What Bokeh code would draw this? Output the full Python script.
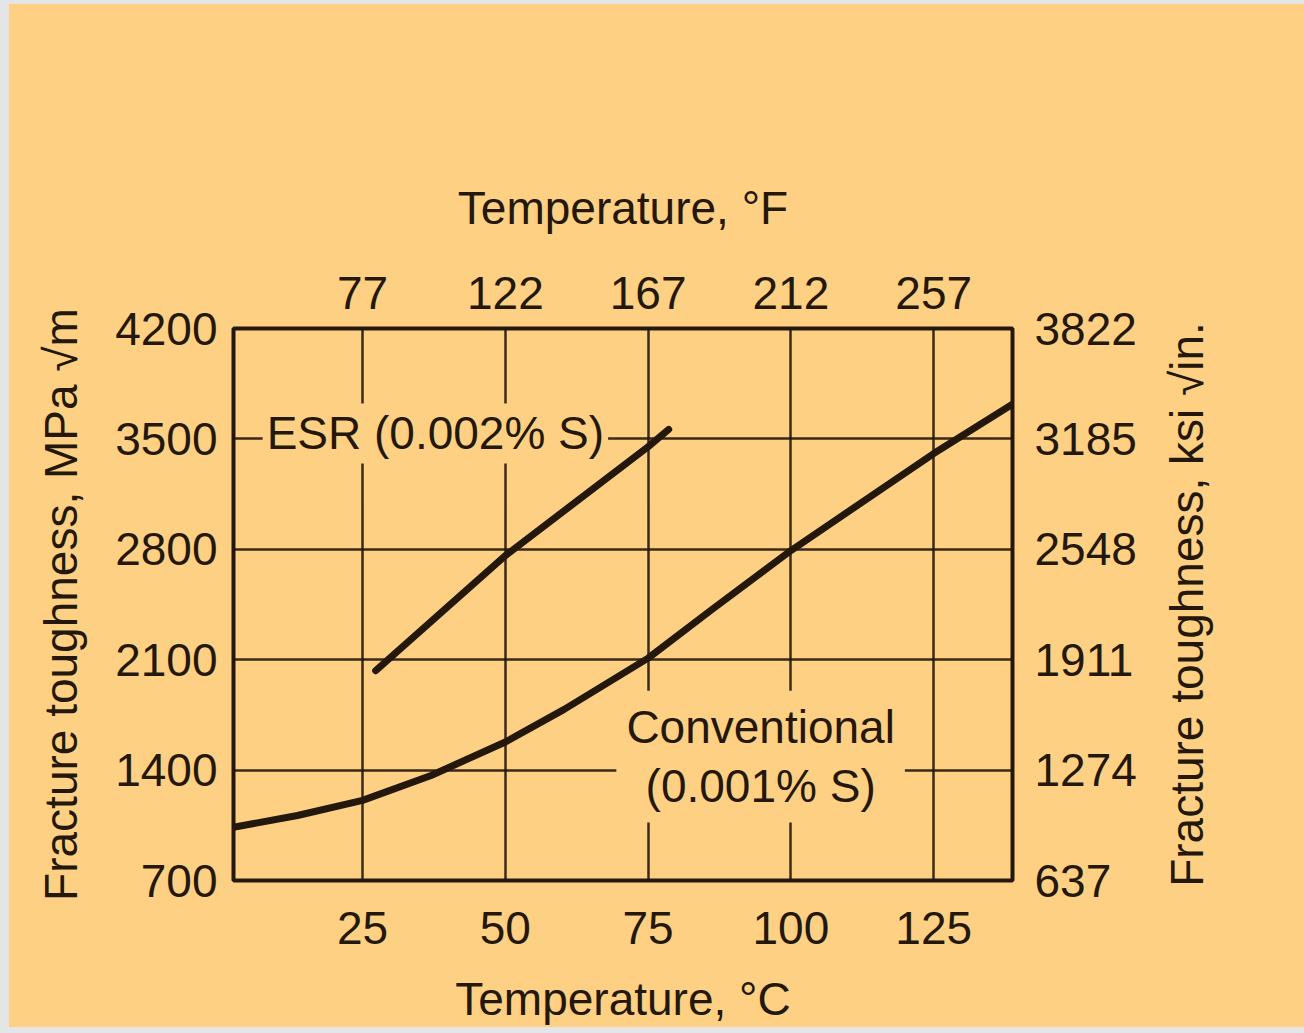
from bokeh.plotting import figure
from bokeh.models import (Range1d, LinearAxis, FixedTicker, Label, Spacer)
from bokeh.layouts import column, row
from bokeh.embed import file_html
from bokeh.resources import INLINE

# ---- data ----
c_ticks = [25, 50, 75, 100, 125]
f_ticks = [77, 122, 167, 212, 257]
mpa_ticks = [700, 1400, 2100, 2800, 3500, 4200]
ksi_ticks = [637, 1274, 1911, 2548, 3185, 3822]

esr_temp = [27.3, 50, 75, 78.6]
esr_kic = [2030, 2760, 3450, 3560]

conv_temp = [2.4, 13.6, 25, 37, 50, 60.3, 75, 86, 100, 125, 139]
conv_kic = [1038, 1112, 1208, 1366, 1578, 1785, 2110, 2413, 2792, 3407, 3725]

BG = "#FED084"
GRAY = "#E3E5E7"
INK = "#24180c"
FONT = "Liberation Sans"
FS = "46px"

x0, x1 = 2.4, 138.8
p = figure(width=1141, height=1023, x_range=Range1d(x0, x1), y_range=Range1d(700, 4200),
           output_backend="svg", toolbar_location=None,
           x_axis_location=None, y_axis_location=None,
           min_border_left=224, min_border_right=138, min_border_top=324, min_border_bottom=147)
p.background_fill_color = BG
p.border_fill_color = BG
p.outline_line_color = INK
p.outline_line_width = 4

p.extra_x_ranges = {"f": Range1d(x0 * 9 / 5 + 32, x1 * 9 / 5 + 32)}
p.extra_y_ranges = {"ksi": Range1d(637, 3822)}


def style(ax, label, standoff, label_standoff):
    ax.axis_label = label
    ax.axis_line_color = None
    ax.major_tick_line_color = None
    ax.minor_tick_line_color = None
    ax.major_tick_out = 0
    ax.major_tick_in = 0
    ax.major_label_text_font = FONT
    ax.major_label_text_font_size = FS
    ax.major_label_text_color = INK
    ax.major_label_standoff = standoff
    ax.axis_label_text_font = FONT
    ax.axis_label_text_font_size = FS
    ax.axis_label_text_font_style = "normal"
    ax.axis_label_text_color = INK
    ax.axis_label_standoff = label_standoff


bottom = LinearAxis(ticker=FixedTicker(ticks=c_ticks))
style(bottom, "Temperature, °C", 31, 26)
p.add_layout(bottom, "below")

top = LinearAxis(x_range_name="f", ticker=FixedTicker(ticks=f_ticks))
style(top, "Temperature, °F", 20, 40)
p.add_layout(top, "above")

left = LinearAxis(ticker=FixedTicker(ticks=mpa_ticks))
style(left, "Fracture toughness, MPa √m", 16, 25)
p.add_layout(left, "left")

right = LinearAxis(y_range_name="ksi", ticker=FixedTicker(ticks=ksi_ticks))
style(right, None, 22, 0)
p.add_layout(right, "right")

p.xgrid.ticker = FixedTicker(ticks=c_ticks)
p.ygrid.ticker = FixedTicker(ticks=mpa_ticks[1:-1])
for g in (p.xgrid, p.ygrid):
    g.grid_line_color = INK
    g.grid_line_width = 2.5
    g.grid_line_alpha = 0.9

p.line(esr_temp, esr_kic, line_color=INK, line_width=7, line_cap="round", line_join="round")
p.line(conv_temp, conv_kic, line_color=INK, line_width=7, line_cap="round", line_join="round")

p.add_layout(Label(x=7.5, y=3535, text="ESR (0.002% S)", text_align="left", text_baseline="middle",
                   text_font=FONT, text_font_size=FS, text_color=INK,
                   background_fill_color=BG, padding=4))
p.add_layout(Label(x=94.7, y=1486, text="Conventional\n(0.001% S)", text_align="center",
                   text_baseline="middle", text_font=FONT, text_font_size=FS, text_color=INK,
                   text_line_height=1.15, background_fill_color=BG, padding=10))

# narrow companion figure whose left-axis title carries the ksi label (reads bottom to top)
p2 = figure(width=154, height=1023, x_range=Range1d(0, 1), y_range=Range1d(637, 3822),
            output_backend="svg", toolbar_location=None,
            x_axis_location=None, y_axis_location=None,
            min_border_left=62, min_border_right=0, min_border_top=324, min_border_bottom=147)
p2.background_fill_color = None
p2.border_fill_color = BG
p2.outline_line_color = None
p2.grid.visible = False
ax2 = LinearAxis(ticker=FixedTicker(ticks=[]))
style(ax2, "Fracture toughness, ksi √in.", 0, 0)
p2.add_layout(ax2, "left")

layout = column(
    Spacer(width=1304, height=4, styles={"background-color": GRAY}),
    row(Spacer(width=9, height=1023, styles={"background-color": GRAY}), p, p2,
        styles={"background-color": BG}),
    Spacer(width=1304, height=6, styles={"background-color": GRAY}),
)

open("out.html", "w").write(file_html(layout, INLINE))
